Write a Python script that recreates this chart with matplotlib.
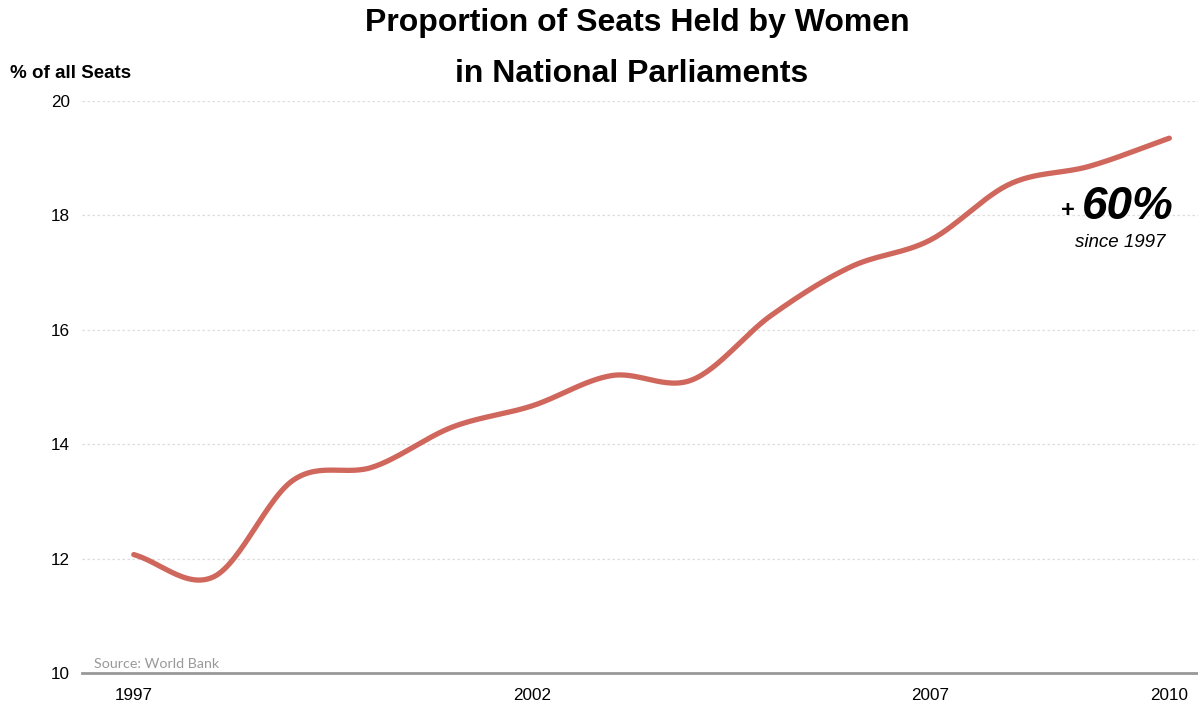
import numpy as np
import matplotlib
matplotlib.use("Agg")
import matplotlib.pyplot as plt

plt.rcParams["font.family"] = ["Liberation Sans", "DejaVu Sans"]

# -----------------------
# DATA
# -----------------------
years = [1997, 1998, 1999, 2000, 2001, 2002, 2003, 2004, 2005, 2006, 2007, 2008, 2009, 2010]
seats_pct = [12.07, 11.68, 13.37, 13.6, 14.3, 14.67, 15.2, 15.12, 16.25, 17.1, 17.57, 18.55, 18.86, 19.35]
x_ticks = [1997, 2002, 2007, 2010]
y_ticks = [10, 12, 14, 16, 18, 20]


# smooth line through the yearly points (Catmull-Rom)
def smooth(xs, ys, n=30):
    xs = np.asarray(xs, float)
    ys = np.asarray(ys, float)
    px = np.concatenate([[2 * xs[0] - xs[1]], xs, [2 * xs[-1] - xs[-2]]])
    py = np.concatenate([[2 * ys[0] - ys[1]], ys, [2 * ys[-1] - ys[-2]]])
    out_x, out_y = [], []
    t = np.linspace(0, 1, n, endpoint=False)
    for i in range(1, len(px) - 2):
        for p, out in ((px, out_x), (py, out_y)):
            p0, p1, p2, p3 = p[i - 1], p[i], p[i + 1], p[i + 2]
            out.extend(0.5 * ((2 * p1) + (-p0 + p2) * t
                              + (2 * p0 - 5 * p1 + 4 * p2 - p3) * t ** 2
                              + (-p0 + 3 * p1 - 3 * p2 + p3) * t ** 3))
    out_x.append(xs[-1])
    out_y.append(ys[-1])
    return np.array(out_x), np.array(out_y)


sx, sy = smooth(years, seats_pct)

# -----------------------
# PLOT
# -----------------------
fig = plt.figure(figsize=(11.98, 7.04), dpi=100)
ax = fig.add_axes([82 / 1198, 1 - 673 / 704, 1 - 82 / 1198, (673 - 101) / 704])

ax.plot(sx, sy, color="#d0675c", lw=3.8, solid_capstyle="round", zorder=3)

ax.set_xlim(1996.35, 2010.36)
ax.set_ylim(10, 20)
ax.set_xticks(x_ticks)
ax.set_yticks(y_ticks)
ax.tick_params(axis="both", length=0, labelsize=12.3, colors="black")
ax.tick_params(axis="y", pad=8.5)
ax.tick_params(axis="x", pad=11)

ax.grid(axis="y", color="#dddddd", linestyle=(0, (2, 2)), lw=0.9)
ax.set_axisbelow(True)
for s in ["top", "right", "left"]:
    ax.spines[s].set_visible(False)
ax.spines["bottom"].set_color("#999999")
ax.spines["bottom"].set_linewidth(2)
ax.spines["bottom"].set_zorder(4)

fig.text(0.532, 1 - 23 / 704, "Proportion of Seats Held by Women", ha="center", va="center",
         fontsize=23, fontweight="bold")
fig.text(0.527, 1 - 74 / 704, "in National Parliaments", ha="center", va="center",
         fontsize=23, fontweight="bold")
fig.text(10 / 1198, 1 - 73 / 704, "% of all Seats", ha="left", va="center",
         fontsize=13.5, fontweight="bold")

ax.text(1996.5, 10.06, "Source: World Bank", ha="left", va="bottom",
        fontsize=10.3, color="#999999", family=["Lato", "DejaVu Sans"])

ax.text(2009.48, 18.15, "60%", ha="center", va="center", fontsize=33,
        fontweight="bold", style="italic")
ax.text(2008.73, 18.08, "+", ha="center", va="center", fontsize=17, fontweight="bold")
ax.text(2009.38, 17.52, "since 1997", ha="center", va="center", fontsize=13.5,
        style="italic")

fig.savefig("out.png", dpi=100)
